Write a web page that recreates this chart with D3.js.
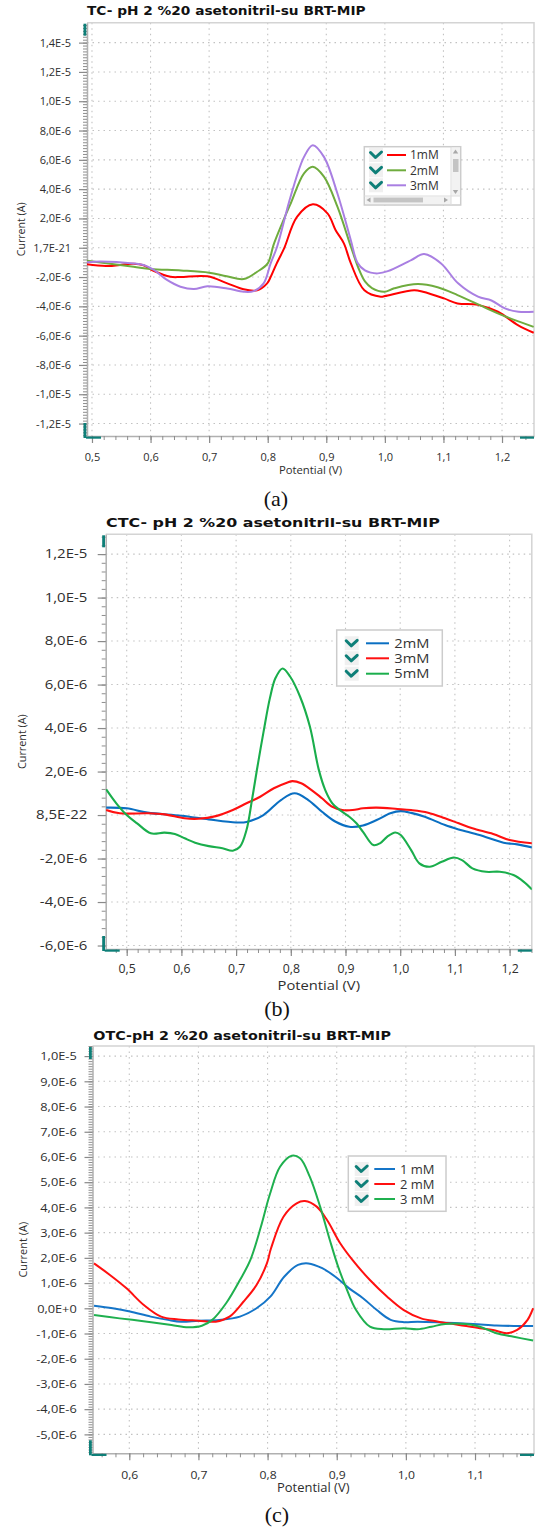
<!DOCTYPE html>
<html><head><meta charset="utf-8">
<script src="https://cdn.jsdelivr.net/npm/d3@7"></script>
<style>body{margin:0;background:#fff}svg{display:block}</style>
</head><body>
<svg id="chart" width="537" height="1528"></svg>
<script>
// ================= DATA (current in units of 1E-6 A) =================
// ---- Panel (a) TC ----
const tcTitle = "TC- pH 2 %20 asetonitril-su BRT-MIP";
const tcCaption = "(a)";
const tcNames = ["1mM", "2mM", "3mM"];
const tcColors = ["#ff0000", "#6fac3e", "#a97fe2"];
const tcYTicks = [14, 12, 10, 8, 6, 4, 2, 0, -2, -4, -6, -8, -10, -12];
const tcYLabels = ["1,4E-5","1,2E-5","1,0E-5","8,0E-6","6,0E-6","4,0E-6","2,0E-6","1,7E-21","-2,0E-6","-4,0E-6","-6,0E-6","-8,0E-6","-1,0E-5","-1,2E-5"];
const tcXTicks = [0.5, 0.6, 0.7, 0.8, 0.9, 1.0, 1.1, 1.2];
const tcXLabels = ["0,5","0,6","0,7","0,8","0,9","1,0","1,1","1,2"];
const tc1x = [0.491,0.524,0.571,0.588,0.605,0.634,0.651,0.697,0.731,0.759,0.782,0.799,0.805,0.815,0.828,0.85,0.877,0.902,0.916,0.93,0.942,0.965,0.993,1.0,1.05,1.065,1.101,1.124,1.159,1.193,1.227,1.254];
const tc1y = [-1.13,-1.25,-1.1,-1.2,-1.57,-1.98,-2.0,-1.95,-2.43,-2.84,-2.9,-2.43,-2.0,-1.1,-0.04,2.1,2.96,2.35,1.2,0.3,-1.07,-2.9,-3.34,-3.3,-2.9,-3.0,-3.46,-3.8,-3.9,-4.37,-5.28,-5.8];
const tc2x = [0.491,0.571,0.6,0.652,0.7,0.73,0.759,0.782,0.8,0.81,0.825,0.839,0.862,0.877,0.896,0.919,0.942,0.955,0.966,0.978,0.999,1.016,1.056,1.09,1.124,1.17,1.2,1.254];
const tc2y = [-0.89,-1.3,-1.45,-1.55,-1.7,-1.95,-2.14,-1.64,-1.07,0.2,1.7,3.0,5.08,5.53,4.85,2.8,0.07,-1.4,-2.3,-2.75,-3.0,-2.77,-2.48,-2.7,-3.23,-4.07,-4.6,-5.4];
const tc3x = [0.491,0.505,0.571,0.588,0.605,0.628,0.651,0.674,0.697,0.731,0.759,0.776,0.793,0.805,0.816,0.839,0.862,0.877,0.896,0.919,0.942,0.953,0.966,0.976,0.988,1.005,1.045,1.067,1.096,1.125,1.159,1.182,1.205,1.228,1.254];
const tc3y = [-1.0,-0.95,-1.07,-1.18,-1.5,-2.2,-2.66,-2.82,-2.63,-2.78,-3.0,-2.96,-2.43,-1.07,0.07,3.48,6.2,7.0,6.2,3.7,0.5,-1.0,-1.55,-1.7,-1.75,-1.6,-0.84,-0.43,-1.07,-2.43,-3.34,-3.6,-4.14,-4.37,-4.37];

// ---- Panel (b) CTC ----
const ctcTitle = "CTC- pH 2 %20 asetonitril-su BRT-MIP";
const ctcCaption = "(b)";
const ctcNames = ["2mM", "3mM", "5mM"];
const ctcColors = ["#0a6fc2", "#ff1010", "#1aae4c"];
const ctcYTicks = [12, 10, 8, 6, 4, 2, 0, -2, -4, -6];
const ctcYLabels = ["1,2E-5","1,0E-5","8,0E-6","6,0E-6","4,0E-6","2,0E-6","8,5E-22","-2,0E-6","-4,0E-6","-6,0E-6"];
const ctcXTicks = [0.5, 0.6, 0.7, 0.8, 0.9, 1.0, 1.1, 1.2];
const ctcXLabels = ["0,5","0,6","0,7","0,8","0,9","1,0","1,1","1,2"];
const ctc2x = [0.4625,0.5,0.538,0.6,0.65,0.7,0.719,0.75,0.782,0.807,0.832,0.857,0.882,0.907,0.932,0.957,0.982,1.001,1.02,1.045,1.082,1.107,1.145,1.189,1.214,1.241];
const ctc2y = [0.34,0.31,0.11,-0.03,-0.2,-0.34,-0.32,0.0,0.69,1.0,0.69,0.15,-0.31,-0.54,-0.48,-0.23,0.08,0.18,0.1,-0.08,-0.46,-0.66,-0.92,-1.27,-1.35,-1.49];
const ctc3x = [0.4625,0.487,0.538,0.569,0.606,0.631,0.663,0.694,0.719,0.744,0.769,0.794,0.803,0.819,0.838,0.857,0.876,0.894,0.913,0.932,0.957,0.995,1.02,1.051,1.082,1.107,1.132,1.17,1.2,1.241];
const ctc3y = [0.23,0.08,0.08,0.03,-0.15,-0.17,-0.05,0.23,0.54,0.84,1.23,1.5,1.56,1.46,1.15,0.77,0.38,0.23,0.23,0.31,0.34,0.28,0.23,0.11,-0.15,-0.38,-0.61,-0.87,-1.15,-1.3];
const ctc5x = [0.4625,0.481,0.5,0.519,0.544,0.569,0.588,0.606,0.625,0.65,0.675,0.694,0.707,0.719,0.729,0.738,0.75,0.762,0.772,0.785,0.799,0.817,0.835,0.851,0.863,0.876,0.888,0.907,0.92,0.932,0.951,0.963,0.976,0.991,1.001,1.02,1.035,1.054,1.076,1.098,1.113,1.132,1.157,1.182,1.207,1.226,1.241];
const ctc5y = [1.18,0.54,0.0,-0.38,-0.84,-0.81,-0.87,-1.07,-1.27,-1.43,-1.53,-1.64,-1.46,-0.69,0.69,2.07,3.8,5.4,6.3,6.74,6.36,5.44,4.06,2.1,1.15,0.54,0.26,-0.08,-0.38,-0.77,-1.38,-1.3,-1.0,-0.8,-0.92,-1.61,-2.22,-2.38,-2.15,-1.95,-2.07,-2.45,-2.61,-2.61,-2.76,-3.07,-3.42];

// ---- Panel (c) OTC ----
const otcTitle = "OTC-pH 2 %20 asetonitril-su BRT-MIP";
const otcCaption = "(c)";
const otcNames = ["1 mM", "2 mM", "3 mM"];
const otcColors = ["#1575c8", "#ff1010", "#1fb04f"];
const otcYTicks = [10, 9, 8, 7, 6, 5, 4, 3, 2, 1, 0, -1, -2, -3, -4, -5];
const otcYLabels = ["1,0E-5","9,0E-6","8,0E-6","7,0E-6","6,0E-6","5,0E-6","4,0E-6","3,0E-6","2,0E-6","1,0E-6","0,0E+0","-1,0E-6","-2,0E-6","-3,0E-6","-4,0E-6","-5,0E-6"];
const otcXTicks = [0.6, 0.7, 0.8, 0.9, 1.0, 1.1];
const otcXLabels = ["0,6","0,7","0,8","0,9","1,0","1,1"];
const otc1x = [0.549,0.576,0.601,0.631,0.656,0.675,0.7,0.73,0.76,0.784,0.804,0.824,0.844,0.859,0.879,0.898,0.918,0.938,0.958,0.978,0.997,1.017,1.057,1.097,1.131,1.156,1.184];
const otc1y = [0.1,0.0,-0.13,-0.33,-0.46,-0.53,-0.49,-0.46,-0.33,0.0,0.46,1.25,1.72,1.78,1.59,1.25,0.79,0.4,-0.07,-0.46,-0.55,-0.53,-0.57,-0.62,-0.68,-0.7,-0.7];
const otc2x = [0.549,0.572,0.596,0.621,0.646,0.671,0.7,0.725,0.745,0.765,0.784,0.799,0.805,0.823,0.842,0.854,0.871,0.886,0.905,0.923,0.948,0.973,0.997,1.022,1.047,1.077,1.107,1.126,1.146,1.161,1.176,1.184];
const otc2y = [1.78,1.32,0.79,0.13,-0.33,-0.44,-0.49,-0.53,-0.33,0.26,0.92,1.78,2.38,3.63,4.16,4.25,4.03,3.5,2.58,1.91,1.12,0.46,-0.07,-0.4,-0.53,-0.66,-0.79,-0.86,-0.99,-0.86,-0.46,0.0];
const otc3x = [0.549,0.586,0.626,0.661,0.685,0.705,0.72,0.74,0.76,0.775,0.79,0.803,0.818,0.835,0.847,0.861,0.876,0.89,0.902,0.913,0.928,0.948,0.968,0.997,1.017,1.037,1.057,1.087,1.107,1.131,1.156,1.184];
const otc3y = [-0.27,-0.4,-0.53,-0.66,-0.75,-0.69,-0.46,0.2,1.12,1.91,3.2,4.49,5.61,6.05,5.95,5.22,4.03,2.71,1.65,0.86,-0.07,-0.73,-0.83,-0.79,-0.83,-0.73,-0.62,-0.62,-0.73,-0.99,-1.13,-1.28];

const xTitle = "Potential (V)";
const yTitle = "Current (A)";

// ================= DRAWING =================
const svg = d3.select("#chart");
const TEAL = "#0e7f78";
const LABEL_FONT = "'Open Sans', 'Noto Sans', sans-serif";
const TITLE_FONT = "'DejaVu Sans', sans-serif";
const TEXT_COL = "#2e2e2e";
let clipId = 0;

function stretchText(g, txt, x, yb, size, sx, opts = {}) {
  return g.append("text")
    .attr("transform", `translate(${x},${yb}) scale(${sx},1)`)
    .attr("text-anchor", opts.anchor || "start")
    .attr("font-family", opts.family || LABEL_FONT)
    .attr("font-weight", opts.weight || "normal")
    .attr("font-size", size)
    .attr("fill", opts.fill || TEXT_COL)
    .text(txt);
}

function panel(p) {
  const x = d3.scaleLinear().domain(p.xDomain).range([p.left, p.right]);
  const y = d3.scaleLinear().domain(p.yDomain).range([p.bottom, p.top]);
  const g = svg.append("g");

  // title
  stretchText(g, p.title, p.titleX, p.titleY, p.titleSize, p.titleSx, {family: TITLE_FONT, weight: "bold", fill: "#111"});

  // grid (dotted)
  const grid = g.append("g").attr("stroke", "#c2c2c2").attr("stroke-width", 1.1).attr("stroke-dasharray", "1.5,4");
  grid.selectAll("line.h").data(p.yTicks).join("line").attr("class", "h")
    .attr("x1", p.left).attr("x2", p.right).attr("y1", d => y(d)).attr("y2", d => y(d));
  grid.selectAll("line.v").data(p.xTicks).join("line").attr("class", "v")
    .attr("y1", p.top).attr("y2", p.bottom).attr("x1", d => x(d)).attr("x2", d => x(d));

  // frame top/right
  g.append("path").attr("d", `M${p.left},${p.top}H${p.right}V${p.bottom}`)
    .attr("fill", "none").attr("stroke", "#d4d4d4").attr("stroke-width", 1.5);

  // minor ticks
  const ym = p.yMinor, xm = 0.02;
  const yMinor = d3.range(Math.ceil(p.yDomain[0] / ym - 1e-6), Math.floor(p.yDomain[1] / ym + 1e-6) + 1).map(k => +(k * ym).toFixed(6));
  const xMinor = d3.range(Math.ceil(p.xDomain[0] / xm - 1e-6), Math.floor(p.xDomain[1] / xm + 1e-6) + 1).map(k => +(k * xm).toFixed(6));

  const gyMin = g.append("g").attr("transform", `translate(${p.left},0)`)
    .call(d3.axisLeft(y).tickValues(yMinor).tickSize(4).tickSizeOuter(0).tickFormat(""));
  const gxMin = g.append("g").attr("transform", `translate(0,${p.bottom})`)
    .call(d3.axisBottom(x).tickValues(xMinor).tickSize(4).tickSizeOuter(0).tickFormat(""));
  [gyMin, gxMin].forEach(a => {
    a.select(".domain").attr("stroke", "#b0b0b0").attr("stroke-width", 1.5);
    a.selectAll(".tick line").attr("stroke", "#8e8e8e").attr("stroke-width", 1);
  });

  // major axes
  const gy = g.append("g").attr("transform", `translate(${p.left},0)`)
    .call(d3.axisLeft(y).tickValues(p.yTicks).tickSize(8).tickSizeOuter(0).tickPadding(p.yPad - 8)
      .tickFormat((d, i) => p.yLabels[i]));
  gy.select(".domain").remove();
  gy.selectAll(".tick line").attr("stroke", "#8a8a8a").attr("stroke-width", 1.2);
  gy.selectAll(".tick text").attr("x", -p.yPad / p.yTickSx).attr("transform", `scale(${p.yTickSx},1)`)
    .attr("font-family", LABEL_FONT).attr("font-size", p.tickSize).attr("fill", TEXT_COL);

  const gx = g.append("g").attr("transform", `translate(0,${p.bottom})`)
    .call(d3.axisBottom(x).tickValues(p.xTicks).tickSize(7).tickSizeOuter(0).tickPadding(p.xPad)
      .tickFormat((d, i) => p.xLabels[i]));
  gx.select(".domain").remove();
  gx.selectAll(".tick line").attr("stroke", "#8a8a8a").attr("stroke-width", 1.2);
  gx.selectAll(".tick text").attr("transform", `scale(${p.xTickSx},1)`)
    .attr("font-family", LABEL_FONT).attr("font-size", p.tickSize).attr("fill", TEXT_COL);

  // axis titles
  stretchText(g, xTitle, (p.left + p.right) / 2, p.xTitleY, p.xTitleSize, p.xTitleSx, {anchor: "middle"});
  g.append("text")
    .attr("transform", `translate(${p.yTitleX},${(p.top + p.bottom) / 2}) rotate(-90)`)
    .attr("text-anchor", "middle").attr("dy", "0.35em")
    .attr("font-family", LABEL_FONT).attr("font-size", p.yTitleSize).attr("fill", TEXT_COL)
    .text(yTitle);

  // teal scroll handles
  const hs = g.append("g").attr("fill", TEAL);
  hs.append("rect").attr("x", p.left - 3.5).attr("y", p.top + 1).attr("width", 2.8).attr("height", 12);
  hs.append("rect").attr("x", p.left - 3.5).attr("y", p.bottom - 13).attr("width", 2.8).attr("height", 15);
  hs.append("rect").attr("x", p.left - 1).attr("y", p.bottom + 0.5).attr("width", 15).attr("height", 2.2);
  hs.append("rect").attr("x", p.right - 14).attr("y", p.bottom + 0.5).attr("width", 14).attr("height", 2.2);

  // series lines
  const id = "clip" + (clipId++);
  svg.append("clipPath").attr("id", id).append("rect")
    .attr("x", p.left).attr("y", p.top).attr("width", p.right - p.left).attr("height", p.bottom - p.top);
  const line = d3.line().x(d => x(d[0])).y(d => y(d[1])).curve(d3.curveCatmullRom.alpha(0.5));
  const lg = g.append("g").attr("clip-path", `url(#${id})`);
  p.series.forEach((s, i) => {
    const pts = s.x.map((v, k) => [v, s.y[k]]);
    lg.append("path").datum(pts).attr("d", line).attr("fill", "none")
      .attr("stroke", p.colors[i]).attr("stroke-width", p.lineWidth).attr("stroke-linejoin", "round");
  });

  // legend
  const L = p.legend;
  const lgd = g.append("g");
  lgd.append("rect").attr("x", L.x0).attr("y", L.y0).attr("width", L.x1 - L.x0).attr("height", L.y1 - L.y0)
    .attr("fill", "#fff").attr("stroke", "#cccccc").attr("stroke-width", 1.5);
  p.names.forEach((nm, i) => {
    const ey = L.ys[i];
    lgd.append("rect").attr("x", L.checkX - 7).attr("y", ey - 7).attr("width", 14).attr("height", 14).attr("fill", "#f0f0f0");
    lgd.append("path").attr("d", `M${L.checkX - 5.5},${ey - 2.5} L${L.checkX - 0.5},${ey + 2.5} L${L.checkX + 5.5},${ey - 3}`)
      .attr("fill", "none").attr("stroke", TEAL).attr("stroke-width", 3).attr("stroke-linecap", "round").attr("stroke-linejoin", "round");
    lgd.append("line").attr("x1", L.lineX0).attr("x2", L.lineX1).attr("y1", ey).attr("y2", ey)
      .attr("stroke", p.colors[i]).attr("stroke-width", 2);
    stretchText(lgd, nm, L.textX, ey + L.size * 0.36, L.size, L.sx, {fill: "#333"});
  });
  if (L.scroll) {
    const sc = lgd.append("g");
    sc.append("rect").attr("x", 451.5).attr("y", L.y0 + 1).attr("width", 8.5).attr("height", 48).attr("fill", "#f2f2f2");
    sc.append("path").attr("d", "M452.8,153.5 L458.2,153.5 L455.5,149.5 Z").attr("fill", "#a8a8a8");
    sc.append("rect").attr("x", 453).attr("y", 159).attr("width", 5.5).attr("height", 13).attr("fill", "#c4c4c4");
    sc.append("path").attr("d", "M452.8,190 L458.2,190 L455.5,194 Z").attr("fill", "#a8a8a8");
    sc.append("rect").attr("x", L.x0 + 1).attr("y", 196.5).attr("width", 86).attr("height", 7.5).attr("fill", "#f2f2f2");
    sc.append("path").attr("d", "M370.5,197.5 L370.5,202.5 L366.5,200 Z").attr("fill", "#a8a8a8");
    sc.append("rect").attr("x", 373.5).attr("y", 197.6).attr("width", 49.5).attr("height", 4.8).attr("fill", "#c4c4c4");
    sc.append("path").attr("d", "M444,197.5 L444,202.5 L448,200 Z").attr("fill", "#a8a8a8");
    sc.append("line").attr("x1", 451).attr("x2", 451).attr("y1", L.y0).attr("y2", L.y1).attr("stroke", "#dddddd");
    sc.append("line").attr("x1", L.x0).attr("x2", L.x1).attr("y1", 196).attr("y2", 196).attr("stroke", "#dddddd");
  }

  // caption
  svg.append("text").attr("x", p.capX).attr("y", p.capY).attr("text-anchor", "middle")
    .attr("font-family", "'Liberation Serif', 'DejaVu Serif', serif").attr("font-size", 22).attr("fill", "#111")
    .text(p.caption);
}

panel({
  title: tcTitle, titleX: 87, titleY: 14.5, titleSize: 12.6, titleSx: 1.09,
  left: 87, right: 534, top: 22.7, bottom: 436,
  xDomain: [0.4915, 1.2546], yDomain: [-12.85, 15.36],
  xTicks: tcXTicks, xLabels: tcXLabels, yTicks: tcYTicks, yLabels: tcYLabels, yMinor: 0.2,
  tickSize: 11, yTickSx: 1, xTickSx: 1, yPad: 16, xPad: 10,
  xTitleY: 474, xTitleSize: 11.3, xTitleSx: 1, yTitleX: 21, yTitleSize: 10.6,
  series: [{x: tc1x, y: tc1y}, {x: tc2x, y: tc2y}, {x: tc3x, y: tc3y}],
  colors: tcColors, names: tcNames, lineWidth: 2,
  legend: {x0: 364.3, x1: 460.7, y0: 146.7, y1: 205, ys: [155, 170.3, 185.3], checkX: 376, lineX0: 387, lineX1: 406, textX: 410, size: 12, sx: 1, scroll: true},
  caption: tcCaption, capX: 276, capY: 506
});

panel({
  title: ctcTitle, titleX: 106, titleY: 527, titleSize: 12.7, titleSx: 1.25,
  left: 105.7, right: 531.8, top: 534.3, bottom: 949,
  xDomain: [0.4616, 1.2406], yDomain: [-6.16, 12.91],
  xTicks: ctcXTicks, xLabels: ctcXLabels, yTicks: ctcYTicks, yLabels: ctcYLabels, yMinor: 0.4,
  tickSize: 11.7, yTickSx: 1.28, xTickSx: 1.05, yPad: 18.4, xPad: 9,
  xTitleY: 989.5, xTitleSize: 11.8, xTitleSx: 1.25, yTitleX: 22.5, yTitleSize: 10.8,
  series: [{x: ctc2x, y: ctc2y}, {x: ctc3x, y: ctc3y}, {x: ctc5x, y: ctc5y}],
  colors: ctcColors, names: ctcNames, lineWidth: 2.1,
  legend: {x0: 336.7, x1: 442.3, y0: 630, y1: 686, ys: [643.3, 658.3, 673.7], checkX: 351.7, lineX0: 366, lineX1: 389, textX: 394.3, size: 12.6, sx: 1.16, scroll: false},
  caption: ctcCaption, capX: 277, capY: 1016
});

panel({
  title: otcTitle, titleX: 93.3, titleY: 1039.5, titleSize: 13, titleSx: 1.1,
  left: 92.5, right: 534, top: 1046, bottom: 1453.3,
  xDomain: [0.5468, 1.1853], yDomain: [-5.75, 10.4],
  xTicks: otcXTicks, xLabels: otcXLabels, yTicks: otcYTicks, yLabels: otcYLabels, yMinor: 0.1,
  tickSize: 11.6, yTickSx: 1.1, xTickSx: 1.05, yPad: 15.8, xPad: 10,
  xTitleY: 1492, xTitleSize: 12, xTitleSx: 1.08, yTitleX: 23, yTitleSize: 11,
  series: [{x: otc1x, y: otc1y}, {x: otc2x, y: otc2y}, {x: otc3x, y: otc3y}],
  colors: otcColors, names: otcNames, lineWidth: 2,
  legend: {x0: 348.3, x1: 446, y0: 1156, y1: 1211.3, ys: [1169, 1184, 1199], checkX: 361.7, lineX0: 374.3, lineX1: 395, textX: 400, size: 13, sx: 1, scroll: false},
  caption: otcCaption, capX: 277, capY: 1522
});
</script>
</body></html>
